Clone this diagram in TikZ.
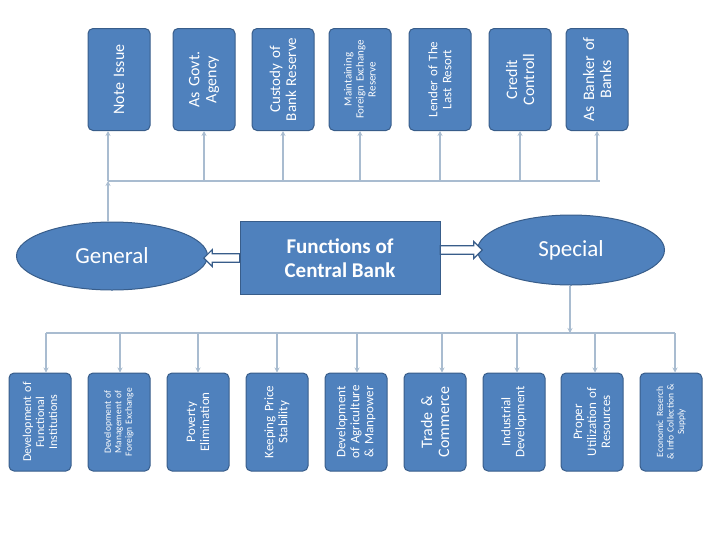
\documentclass[tikz,border=0pt]{standalone}
\usepackage{fontspec}
\setmainfont{Carlito}
\usetikzlibrary{shapes.geometric,shapes.arrows,arrows.meta}
\definecolor{bfill}{HTML}{4F81BD}
\definecolor{bdraw}{HTML}{385D8A}
\definecolor{conn}{HTML}{A9BCD0}
\begin{document}
\begin{tikzpicture}[x=1pt,y=-1pt,
  box/.style={draw=bdraw,fill=bfill,rounded corners=5pt,line width=1pt,minimum width=102pt,minimum height=62pt,rotate=90,text=white,align=center,inner sep=2pt,text width=98pt},
  bbox/.style={box,minimum width=97pt,text width=94pt},
  ell/.style={ellipse,draw=bdraw,fill=bfill,line width=1pt,text=white,font=\fontsize{23}{25}\selectfont},
  con/.style={draw=conn,line width=1.2pt},
  arr/.style={con,-{Stealth[length=5pt,width=5pt]}},
  blk/.style={single arrow,draw=bdraw,line width=1.2pt,fill=white,minimum width=17pt,single arrow head extend=3.5pt,inner sep=3pt}]
\useasboundingbox (0,0) rectangle (720,539);
% top boxes
\node[box,font=\fontsize{16}{17}\selectfont] (t1) at (119,79.5) {Note Issue};
\node[box,font=\fontsize{16}{17}\selectfont] (t2) at (204,79.5) {As Govt.\\Agency};
\node[box,font=\fontsize{15}{16}\selectfont] (t3) at (283,79.5) {Custody of\\Bank Reserve};
\node[box,font=\fontsize{11}{12}\selectfont] (t4) at (360,79.5) {Maintaining\\Foreign Exchange\\Reserve};
\node[box,font=\fontsize{13}{14}\selectfont] (t5) at (440,79.5) {Lender of The\\Last Resort};
\node[box,font=\fontsize{16}{17}\selectfont] (t6) at (520,79.5) {Credit\\Controll};
\node[box,font=\fontsize{16}{17}\selectfont] (t7) at (597,79.5) {As Banker of\\Banks};
% center
\node[draw=bdraw,fill=bfill,line width=1pt,minimum width=200pt,minimum height=73pt,text=white,align=center,font=\bfseries\fontsize{21}{24}\selectfont] (c) at (340,258) {Functions of\\Central Bank};
\node[ell,minimum width=191pt,minimum height=68pt] (g) at (112,256) {General};
\node[ell,minimum width=187pt,minimum height=70pt] (s) at (571,250) {Special};
\node[blk,minimum height=36pt,shape border rotate=180] (a1) at (224,258) {};
\node[blk,minimum height=42pt] (a2) at (459,250) {};
% top connectors
\coordinate (tb) at (108,181);
\draw[arr] (g.north -| tb) -- (tb);
\draw[con] (tb) -- (600,181);
\draw[arr] (tb) -- (t1.west -| tb);
\foreach \n in {t2,t3,t4,t5,t6,t7}{\draw[arr] (\n.west |- tb) -- (\n.west);}
% bottom boxes
\node[bbox,font=\fontsize{12}{13}\selectfont] (b1) at (40,422) {Development of\\Functional\\Institutions};
\node[bbox,font=\fontsize{9.5}{10.5}\selectfont] (b2) at (119,422) {Development of\\Management of\\Foreign Exchange};
\node[bbox,font=\fontsize{13}{14}\selectfont] (b3) at (198,422) {Poverty\\Elimination};
\node[bbox,font=\fontsize{13}{14}\selectfont] (b4) at (277,422) {Keeping Price\\Stability};
\node[bbox,font=\fontsize{13}{14}\selectfont] (b5) at (356,422) {Development\\of Agriculture\\\& Manpower};
\node[bbox,font=\fontsize{16}{17}\selectfont] (b6) at (435,422) {Trade \&\\Commerce};
\node[bbox,font=\fontsize{13}{14}\selectfont] (b7) at (514,422) {Industrial\\Development};
\node[bbox,font=\fontsize{13}{14}\selectfont] (b8) at (592,422) {Proper\\Utilization of\\Resources};
\node[bbox,font=\fontsize{9.5}{10.5}\selectfont] (b9) at (671,422) {Economic Reserch\\\& Info Collection \&\\Supply};
\coordinate (bb) at (570,333);
\draw[arr] (s.south -| bb) -- (bb);
\draw[con] (46,333) -- (675,333);
\foreach \n/\x in {b1/46,b2/120,b3/198,b4/277,b5/357,b6/442,b7/517,b8/595,b9/675}{\draw[arr] (\x,333) -- (\n.east -| \x,0);}
\end{tikzpicture}
\end{document}
